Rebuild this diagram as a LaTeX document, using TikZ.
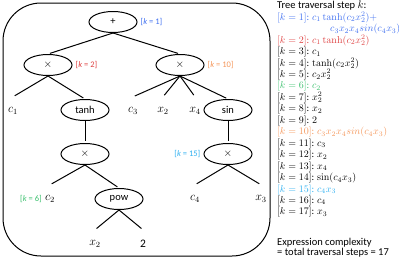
\documentclass[tikz,border=0pt]{standalone}
\usepackage[no-math]{fontspec}
\setmainfont{Carlito}
\usetikzlibrary{positioning,shapes.geometric}

\definecolor{kblue}{RGB}{64,112,240}
\definecolor{kred}{RGB}{222,64,64}
\definecolor{kgreen}{RGB}{60,192,110}
\definecolor{korange}{RGB}{244,150,90}
\definecolor{kcyan}{RGB}{48,176,240}

\begin{document}
\begin{tikzpicture}[
    x=1pt, y=-1pt,
    node distance=3pt and 3pt,
    op/.style={draw, ellipse, line width=1pt, minimum width=48pt, minimum height=21pt, inner sep=0pt, font=\fontsize{10.5}{11}\selectfont},
    leaf/.style={minimum height=28pt, inner sep=0pt, font=\fontsize{11.5}{12}\selectfont},
    klabel/.style={inner sep=0pt, font=\fontsize{8.5}{9}\selectfont},
    edge/.style={line width=1pt, shorten >=2pt},
    steplist/.style={anchor=north west, inner sep=0pt, align=left, font=\fontsize{9.7}{11.45}\selectfont}
]
\useasboundingbox (0,0) rectangle (399,260);
\draw[line width=1pt, rounded corners=38pt] (3,3) rectangle (270,256);

% expression tree
\node[op] (plus) at (113,22) {+};
\node[op] (mulA) at (48,65) {$\times$};
\node[op] (mulB) at (180,65) {$\times$};
\node[leaf] (cA) at (13,111) {$c_1$};
\node[op] (tanh) at (85,110) {tanh};
\node[leaf] (cC) at (133,111) {$c_3$};
\node[leaf] (xB) at (163,111) {$x_2$};
\node[leaf] (xD) at (195,111) {$x_4$};
\node[op] (sin) at (228,110) {sin};
\node[op] (mulC) at (85,154) {$\times$};
\node[op] (mulD) at (228,154) {$\times$};
\node[leaf] (cB) at (50,199) {$c_2$};
\node[op] (pow) at (119,199) {pow};
\node[leaf] (cD) at (195,199) {$c_4$};
\node[leaf] (xC) at (261,199) {$x_3$};
\node[leaf] (xA) at (95,244) {$x_2$};
\node[leaf] (two) at (143,244) {2};

\node[klabel, kblue, right=of plus] (kA) {[\textit{k} = 1]};
\node[klabel, kred, right=of mulA] (kB) {[\textit{k} = 2]};
\node[klabel, korange, right=of mulB] (kJ) {[\textit{k} = 10]};
\node[klabel, kgreen, left=of cB] (kF) {[\textit{k} = 6]};
\node[klabel, kcyan, left=of mulD] (kO) {[\textit{k} = 15]};

\draw[edge] (plus.south) -- (mulA.north);
\draw[edge] (plus.south) -- (mulB.north);
\draw[edge] (mulA.south) -- (cA.north);
\draw[edge] (mulA.south) -- (tanh.north);
\draw[edge] (mulB.south) -- (cC.north);
\draw[edge] (mulB.south) -- (xB.north);
\draw[edge] (mulB.south) -- (xD.north);
\draw[edge] (mulB.south) -- (sin.north);
\draw[edge] (tanh.south) -- (mulC.north);
\draw[edge] (sin.south) -- (mulD.north);
\draw[edge] (mulC.south) -- (cB.north);
\draw[edge] (mulC.south) -- (pow.north);
\draw[edge] (mulD.south) -- (cD.north);
\draw[edge] (mulD.south) -- (xC.north);
\draw[edge] (pow.south) -- (xA.north);
\draw[edge] (pow.south) -- (two.north);

% traversal list
\node[steplist] (steps) at (277,1) {%
{\fontsize{10.5}{11.45}\selectfont Tree traversal step $k$:}\\
\color{kblue}$[k=1]$: $c_1\tanh(c_2x_2^2)+$\\
\hspace*{53pt}\color{kblue}$c_3x_2x_4 sin(c_4x_3)$\\
\color{kred}$[k=2]$: $c_1\tanh(c_2x_2^2)$\\
$[k=3]$: $c_1$\\
$[k=4]$: $\tanh(c_2x_2^2)$\\
$[k=5]$: $c_2x_2^2$\\
\color{kgreen}$[k=6]$: $c_2$\\
$[k=7]$: $x_2^2$\\
$[k=8]$: $x_2$\\
$[k=9]$: $2$\\
\color{korange}$[k=10]$: $c_3x_2x_4 sin(c_4x_3)$\\
$[k=11]$: $c_3$\\
$[k=12]$: $x_2$\\
$[k=13]$: $x_4$\\
$[k=14]$: $\sin(c_4x_3)$\\
\color{kcyan}$[k=15]$: $c_4x_3$\\
$[k=16]$: $c_4$\\
$[k=17]$: $x_3$};
\node[steplist, font=\fontsize{10.5}{10}\selectfont] (cplx) at (277,238) {Expression complexity\\= total traversal steps = 17};
\end{tikzpicture}
\end{document}
